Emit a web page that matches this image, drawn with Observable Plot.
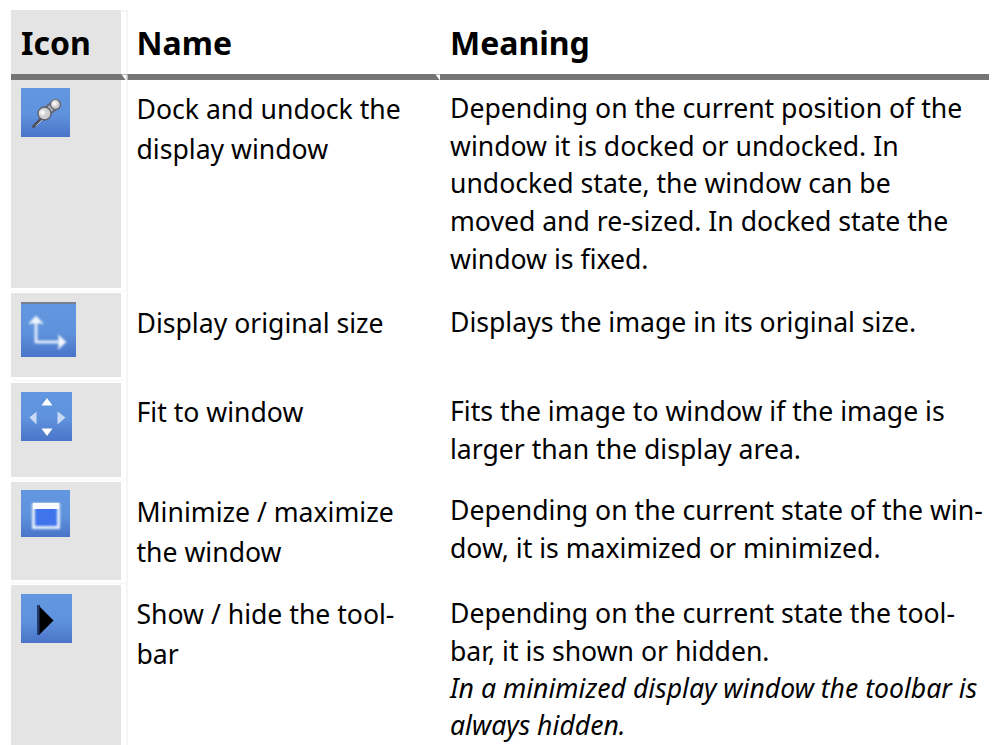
<!DOCTYPE html>
<html><head><meta charset="utf-8">
<script src="https://cdn.jsdelivr.net/npm/d3@7"></script>
<script src="https://cdn.jsdelivr.net/npm/@observablehq/plot@0.6"></script>
<style>html,body{margin:0;padding:0;background:#fff}svg{display:block}</style>
</head><body><div id="chart"></div>
<script>
const headers = ["Icon", "Name", "Meaning"];
const names = [
  ["Dock and undock the", "display window"],
  ["Display original size"],
  ["Fit to window"],
  ["Minimize / maximize", "the window"],
  ["Show / hide the tool-", "bar"]
];
const meanings = [
  ["Depending on the current position of the", "window it is docked or undocked. In", "undocked state, the window can be", "moved and re-sized. In docked state the", "window is fixed."],
  ["Displays the image in its original size."],
  ["Fits the image to window if the image is", "larger than the display area."],
  ["Depending on the current state of the win-", "dow, it is maximized or minimized."],
  ["Depending on the current state the tool-", "bar, it is shown or hidden."]
];
const note = ["In a minimized display window the toolbar is", "always hidden."];

// layout
const W = 1001, H = 745;
const colX = [20.5, 136, 449.5];
const rowTop = [80, 293, 383, 482, 585];
const rowBottom = [288, 377, 477, 580, 745];
const nameY = [109.7, 323.7, 412.7, 512.7, 614.7];
const meaningY = [108.7, 322.7, 411.7, 510.7, 613.7];
const icons = [[21, 88, 70, 137], [21, 302, 76, 357], [21, 392, 72, 441], [21, 490, 70, 537], [21, 594, 72, 643]];

const bodyFont = {fontFamily: "'Noto Sans'", fontSize: 26.6, fill: "#000", textAnchor: "start", lineAnchor: "middle", stroke: null};
const nameLines = names.flatMap((ls, r) => ls.map((t, i) => ({t, x: colX[1], y: nameY[r] + i * 40})));
const meaningLines = meanings.flatMap((ls, r) => ls.map((t, i) => ({t, x: colX[2], y: meaningY[r] + i * 37.8})));
const noteLines = note.map((t, i) => ({t, x: colX[2], y: 688.7 + i * 37.5}));
const headerCells = headers.map((t, i) => ({t, x: colX[i], y: 44.5}));

const defs = () => {
  const d = d3.create("svg:defs");
  const g = d.append("linearGradient").attr("id", "ig").attr("x1", 0).attr("x2", 0).attr("y1", 0).attr("y2", 1);
  g.append("stop").attr("offset", "0%").attr("stop-color", "#6298e0");
  g.append("stop").attr("offset", "55%").attr("stop-color", "#5f92dc");
  g.append("stop").attr("offset", "100%").attr("stop-color", "#4a74c8");
  return d.node();
};
const rectOf = (rows, opts) => Plot.rect(rows, {x1: "0", x2: "2", y1: "1", y2: "3", inset: 0, ...opts});
const ln = (pts, opts) => Plot.line(pts, {x: "0", y: "1", curve: "linear", ...opts});

const marks = [
  defs,
  // grey icon column
  rectOf([[11, 10, 121, 74], ...rowTop.map((t, r) => [11, t, 121, rowBottom[r]])], {fill: "#e4e4e4"}),
  // faint cell borders
  Plot.ruleX([126.5], {y1: 10, y2: 745, stroke: "#ececec", strokeWidth: 1}),
  ln([[121, 10.5], [126, 10.5]], {stroke: "#eeeeee", strokeWidth: 1}),
  ...[290.5, 380, 479.5, 582.5].map(y => ln([[11, y], [126, y]], {stroke: "#f6f6f6", strokeWidth: 1})),
  // header rule with notches
  rectOf([[11, 74, 989, 80]], {fill: "#757575"}),
  ln([[121, 74], [126, 74], [126, 80], [125.5, 80]], {fill: "#fff", stroke: "none"}),
  ln([[126, 74], [127, 74], [127, 80], [126, 80]], {fill: "#fff", stroke: "none"}),
  ln([[435, 74], [439.5, 74], [439.5, 80]], {fill: "#fff", stroke: "none"}),
  // icons
  rectOf(icons, {fill: "url(#ig)"}),
  rectOf([[21, 302, 76, 304]], {fill: "#77808f"}),
  // pin
  ln([[33, 126], [43, 116]], {stroke: "#4f525d", strokeWidth: 3}),
  ln([[36, 125], [43, 118]], {stroke: "#c8c8cc", strokeWidth: 1}),
  ln([[45, 112], [55, 104]], {stroke: "#66687a", strokeWidth: 10}),
  ln([[45, 112], [55, 104]], {stroke: "#b9bac0", strokeWidth: 6}),
  Plot.dot([[44, 113]], {x: "0", y: "1", r: 6.5, fill: "#cfcfd2", stroke: "#5d5f6c", strokeWidth: 1.4}),
  Plot.dot([[55, 104]], {x: "0", y: "1", r: 5, fill: "#c8c8cb", stroke: "#5d5f6c", strokeWidth: 1.2}),
  Plot.dot([[42, 112], [54, 103]], {x: "0", y: "1", r: 2.5, fill: "#fff", imageFilter: "blur(0.8px)"}),
  // original-size axes
  ln([[35.5, 322], [35.5, 341.5], [61, 341.5]], {stroke: "#dfe9fa", strokeWidth: 3, imageFilter: "blur(0.9px)"}),
  ln([[29, 323], [35.5, 316], [42, 323]], {fill: "#f4f7fd", stroke: "#dfe9fa", imageFilter: "blur(0.8px)"}),
  ln([[58, 335], [65, 341.5], [58, 348]], {fill: "#f4f7fd", stroke: "#dfe9fa", imageFilter: "blur(0.8px)"}),
  // fit-to-window triangles
  ln([[41, 405], [46.5, 397.5], [52, 405]], {fill: "#fff", stroke: "none"}),
  ln([[41, 428], [46.5, 435.5], [52, 428]], {fill: "#fff", stroke: "none"}),
  ln([[36, 411], [29, 417], [36, 424]], {fill: "#c9daf5", stroke: "none"}),
  ln([[57, 411], [65, 417], [57, 424]], {fill: "#c9daf5", stroke: "none"}),
  // window
  rectOf([[33.5, 504.5, 58.5, 527.5]], {fill: "#3f74ec", stroke: "#e6eefb", strokeWidth: 3, imageFilter: "blur(0.8px)"}),
  rectOf([[33, 503, 59, 509]], {fill: "#fbfcff", imageFilter: "blur(0.5px)"}),
  // toolbar triangle
  rectOf([[37, 605, 40, 635]], {fill: "#223a6e"}),
  ln([[39, 606], [53, 620], [39, 634]], {fill: "#000", stroke: "none"}),
  // texts
  Plot.text(headerCells, {x: "x", y: "y", text: "t", ...bodyFont, fontSize: 32, fontWeight: 700}),
  Plot.text(nameLines, {x: "x", y: "y", text: "t", ...bodyFont}),
  Plot.text(meaningLines, {x: "x", y: "y", text: "t", ...bodyFont}),
  Plot.text(noteLines, {x: "x", y: "y", text: "t", ...bodyFont, fontStyle: "italic"})
];

const chart = Plot.plot({
  width: W, height: H, margin: 0,
  style: {background: "#fff", overflow: "hidden"},
  x: {type: "linear", domain: [0, W], range: [0, W], axis: null},
  y: {type: "linear", domain: [0, H], range: [0, H], axis: null},
  marks
});
document.getElementById("chart").append(chart);
</script></body></html>
